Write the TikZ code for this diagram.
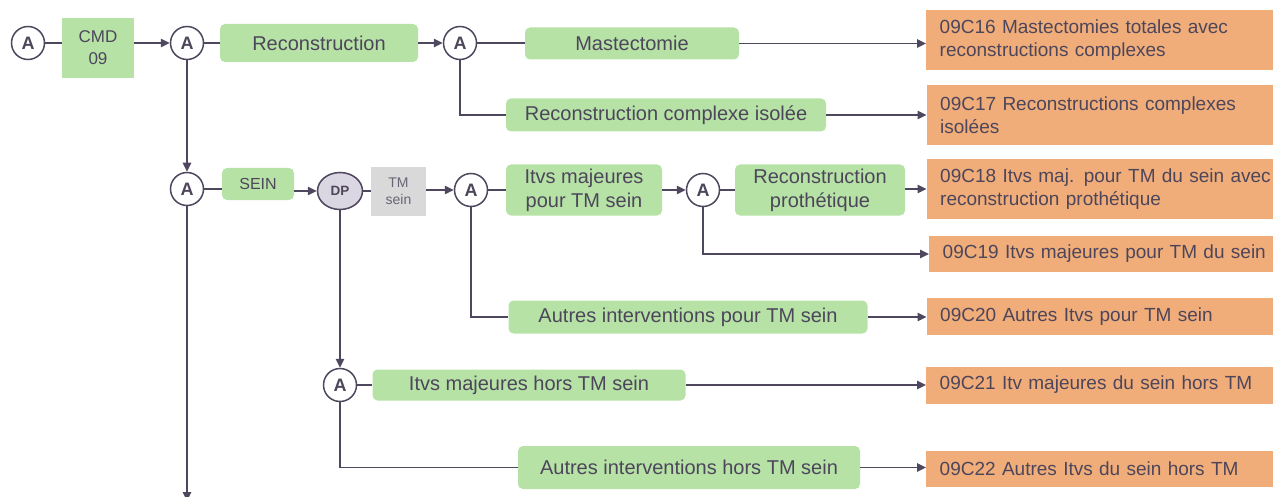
\documentclass[tikz,border=0pt]{standalone}
\usepackage{fontspec}
\setmainfont{Liberation Sans}
\usetikzlibrary{arrows.meta,shapes.geometric}
\definecolor{textc}{RGB}{77,70,91}
\definecolor{linec}{RGB}{79,71,94}
\definecolor{greenc}{RGB}{182,226,166}
\definecolor{orangec}{RGB}{240,173,121}
\definecolor{grayc}{RGB}{217,217,217}
\definecolor{graytext}{RGB}{105,100,118}
\definecolor{dpc}{RGB}{218,214,226}
\tikzset{
  cA/.style={circle, draw=linec, line width=1.5pt, fill=white, minimum size=33pt, inner sep=0pt,
    font=\fontsize{18}{18}\selectfont\bfseries, text=textc},
  gbox/.style={rectangle, rounded corners=5pt, fill=greenc, draw=none, text=textc,
    font=\fontsize{20}{24}\selectfont, align=center, inner sep=0pt},
  obox/.style={rectangle, fill=orangec, draw=none, text=textc, anchor=west,
    font=\fontsize{19}{23.3}\selectfont, align=left, inner ysep=0pt, inner xsep=13.5pt,
    text width=320pt},
  cmdbox/.style={rectangle, fill=greenc, draw=none, text=textc, align=center, inner sep=0pt,
    font=\fontsize{17}{22}\selectfont, minimum width=72pt, minimum height=60pt},
  tmbox/.style={rectangle, fill=grayc, draw=none, text=graytext, align=center, inner sep=0pt,
    font=\fontsize{14}{17}\selectfont, minimum width=55pt, minimum height=49pt},
  dpnode/.style={ellipse, fill=dpc, draw=linec, line width=1.5pt, inner sep=0pt,
    minimum width=45pt, minimum height=37pt, text=textc, font=\fontsize{13.5}{14}\selectfont\bfseries},
  conn/.style={draw=linec, line width=1.6pt},
  arr/.style={conn, -{Triangle[length=9pt,width=8.5pt]}},
}
\begin{document}
\begin{tikzpicture}[x=1pt,y=-1pt]
\useasboundingbox (0,0) rectangle (1273,497);
% nodes
\node[cA] (a0) at (28,43) {A};
\node[cmdbox] (cmd) at (98,48) {CMD\\09};
\node[cA] (a1) at (187,43) {A};
\node[gbox, minimum width=198pt, minimum height=38pt] (recon) at (319,43) {Reconstruction};
\node[cA] (a2) at (460,43) {A};
\node[gbox, minimum width=214pt, minimum height=32pt] (mast) at (632,43.5) {Mastectomie};
\node[obox, minimum height=60pt] (o1) at (926,40) {\mbox{09C16 Mastectomies totales avec}\\\mbox{reconstructions complexes}};
\node[gbox, minimum width=320pt, minimum height=33pt] (crci) at (666,115) {Reconstruction complexe isolée};
\node[obox, minimum height=60pt] (o2) at (926.5,115.5) {\mbox{09C17 Reconstructions complexes}\\\mbox{isolées}};
\node[cA] (a3) at (187,189) {A};
\node[gbox, font=\fontsize{16}{18}\selectfont, minimum width=72pt, minimum height=32pt] (sein) at (258,184) {SEIN};
\node[dpnode] (dp) at (340,191) {DP};
\node[tmbox] (tm) at (398.5,191.5) {TM\\sein};
\node[cA] (a4) at (471,190) {A};
\node[gbox, minimum width=156pt, minimum height=51pt] (ivmaj) at (584,190) {Itvs majeures\\pour TM sein};
\node[cA] (a5) at (703,190) {A};
\node[gbox, minimum width=170pt, minimum height=51pt] (rp) at (820,190) {Reconstruction\\prothétique};
\node[obox, minimum height=60pt] (o3) at (926.5,189) {\mbox{09C18 Itvs maj. pour TM du sein avec}\\\mbox{reconstruction prothétique}};
\node[obox, minimum height=36pt, text width=317pt] (o4) at (929,254) {\mbox{09C19 Itvs majeures pour TM du sein}};
\node[gbox, minimum width=359pt, minimum height=33pt] (aut1) at (688,317) {Autres interventions pour TM sein};
\node[obox, minimum height=37pt] (o5) at (926.5,316.7) {\mbox{09C20 Autres Itvs pour TM sein}};
\node[cA] (a6) at (340,385) {A};
\node[gbox, minimum width=313pt, minimum height=31pt] (ivhors) at (529,385) {Itvs majeures hors TM sein};
\node[obox, minimum height=37pt] (o6) at (926,385) {\mbox{09C21 Itv majeures du sein hors TM}};
\node[gbox, minimum width=342pt, minimum height=43pt] (aut2) at (689,467.5) {Autres interventions hors TM sein};
\node[obox, minimum height=36pt] (o7) at (926,469) {\mbox{09C22 Autres Itvs du sein hors TM}};
\coordinate (bot) at (187,501);
% connectors
\draw[conn] (a0) -- (a0 -| cmd.west);
\draw[arr] (cmd.east |- a1) -- (a1);
\draw[conn] (a1) -- (a1 -| recon.west);
\draw[arr] (recon.east |- a2) -- (a2);
\draw[conn] (a2) -- (a2 -| mast.west);
\draw[arr] (mast.east) -- (mast.east -| o1.west);
\draw[conn] (a2) |- (crci.west);
\draw[arr] (crci.east) -- (crci.east -| o2.west);
\draw[arr] (a1) -- (a3);
\draw[arr] (a3) -- (bot);
\draw[conn] (a3) -- (a3 -| sein.west);
\draw[arr] (sein.east |- dp) -- (dp);
\draw[conn] (dp) -- (dp -| tm.west);
\draw[arr] (tm.east |- a4) -- (a4);
\draw[conn] (a4) -- (a4 -| ivmaj.west);
\draw[arr] (ivmaj.east |- a5) -- (a5);
\draw[conn] (a5) -- (a5 -| rp.west);
\draw[arr] (rp.east |- o3) -- (o3.west);
\draw[arr] (a5) |- (o4.west);
\draw[conn] (a4) |- (aut1.west);
\draw[arr] (aut1.east) -- (aut1.east -| o5.west);
\draw[arr] (dp) -- (a6);
\draw[conn] (a6) -- (a6 -| ivhors.west);
\draw[arr] (ivhors.east) -- (ivhors.east -| o6.west);
\draw[conn] (a6) |- (aut2.west);
\draw[arr] (aut2.east) -- (aut2.east -| o7.west);
\end{tikzpicture}
\end{document}
